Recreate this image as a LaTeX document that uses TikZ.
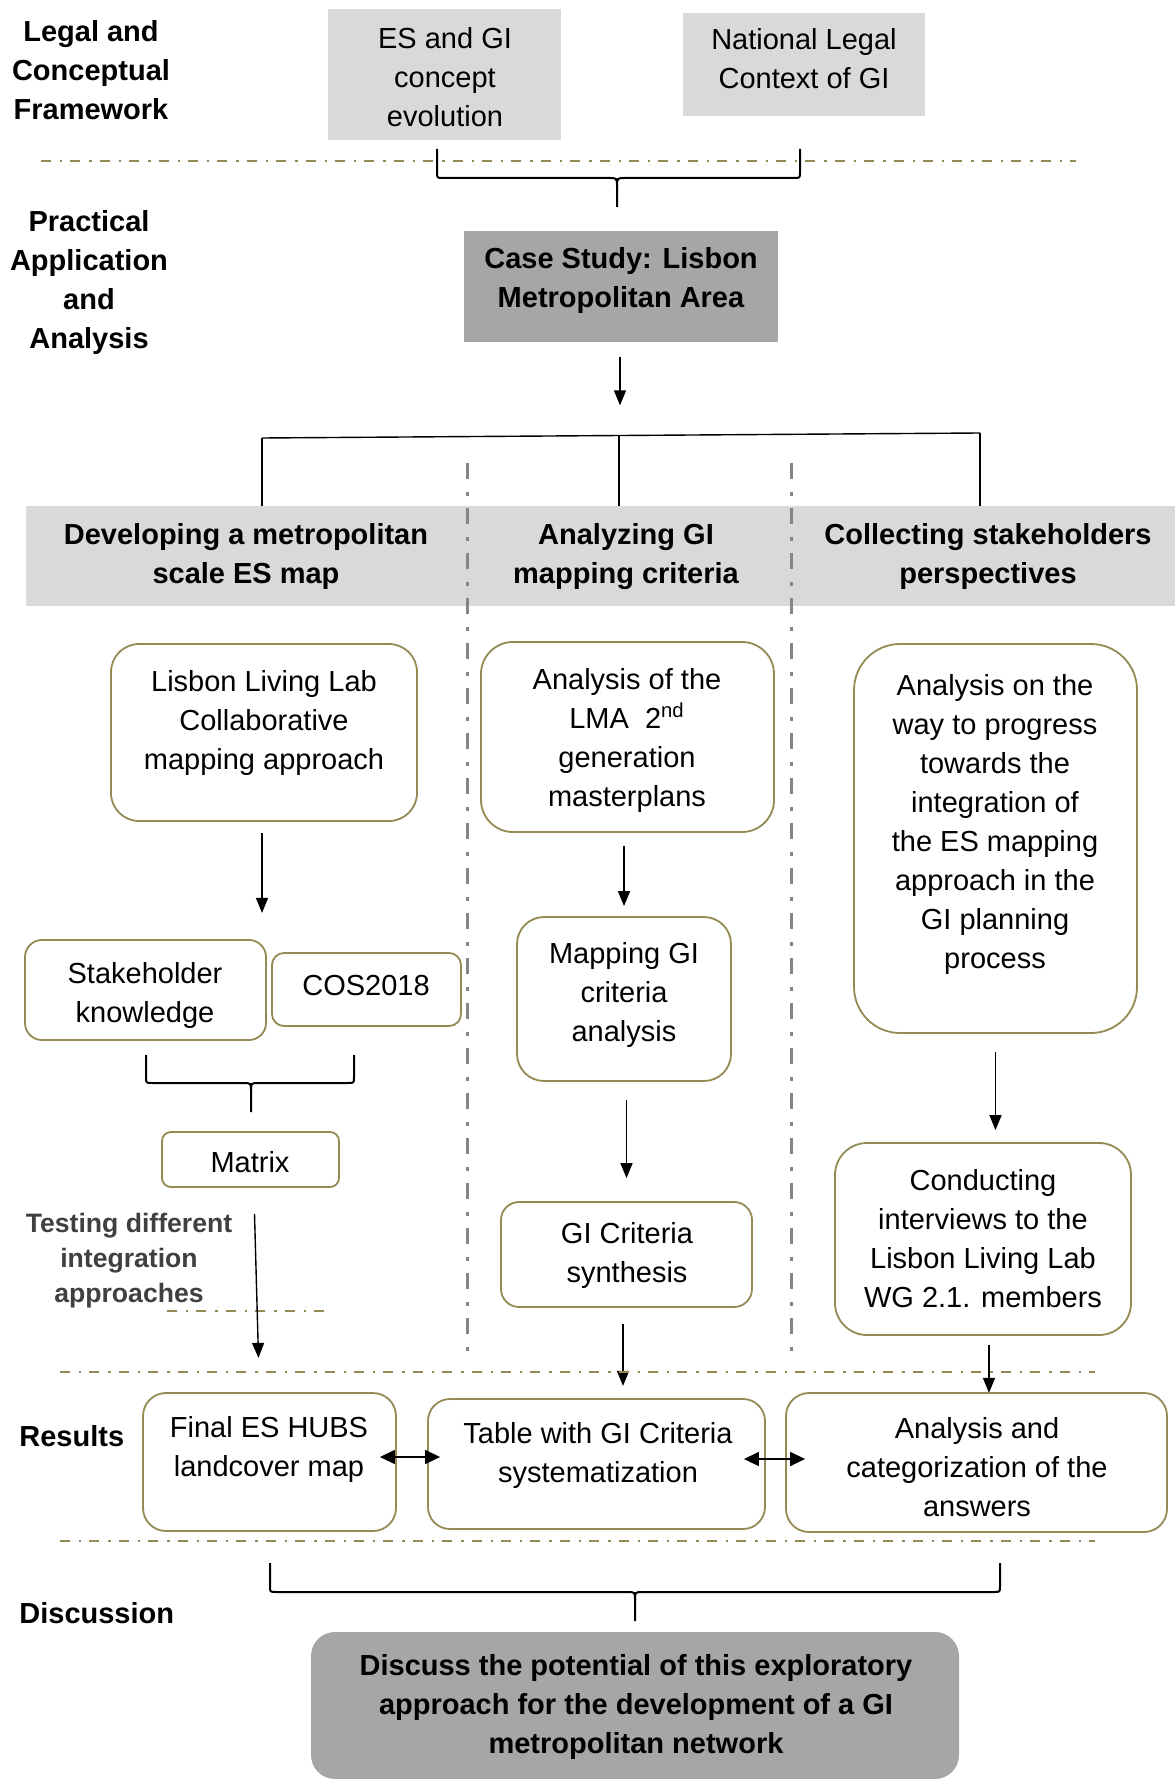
\documentclass[tikz,border=0pt]{standalone}
\usepackage{fontspec}
\setmainfont{Liberation Sans}
\usetikzlibrary{arrows.meta,fit,calc}
\definecolor{frameolive}{HTML}{948A54}
\definecolor{bandgray}{HTML}{D9D9D9}
\definecolor{darkfill}{HTML}{A6A6A6}
\definecolor{sepgray}{HTML}{858585}
\definecolor{notegray}{HTML}{404040}
\tikzset{
  body/.style={font=\fontsize{14.5}{19.5}\selectfont, align=center, inner sep=0pt},
  bodybf/.style={font=\fontsize{14.5}{19.5}\selectfont\bfseries, align=center, inner sep=0pt},
  rbox/.style={draw=frameolive, line width=0.9pt, fill=white, inner sep=0pt},
  gbox/.style={fill=bandgray, inner sep=0pt},
  dbox/.style={fill=darkfill, inner sep=0pt},
  conn/.style={line width=0.7pt},
  arr/.style={line width=0.7pt, -{Triangle[length=7.5pt,width=6pt]}},
  darr/.style={line width=0.7pt, {Triangle[length=7.5pt,width=7pt]}-{Triangle[length=7.5pt,width=7pt]}},
  brace/.style={line width=1pt},
  phase/.style={draw=frameolive, line width=1.3pt, dash pattern=on 5pt off 4.5pt on 1.2pt off 4pt},
  column/.style={draw=sepgray, line width=1.5pt, dash pattern=on 8pt off 6.5pt on 2pt off 6pt},
}
\begin{document}
\begin{tikzpicture}[x=0.5pt,y=-0.5pt]
\useasboundingbox (0,0) rectangle (1175,1780);

% phase labels
\node[bodybf] (lab-legal) at (91,70) {Legal and\\Conceptual\\Framework};
\node[bodybf] (lab-prac) at (89,283) {Practical\\Application\\and\\Analysis};
\node[bodybf, anchor=west] (lab-res) at (19,1436) {Results};
\node[bodybf, anchor=west] (lab-disc) at (19,1613) {Discussion};

% legal and conceptual framework
\node[gbox, fit={(328,9) (561,140)}] (es) {};
\node[body] (es-t) at (445,77) {ES and GI\\concept\\evolution};
\node[gbox, fit={(683,13) (925,116)}] (nat) {};
\node[body] (nat-t) at (804,59) {National Legal\\Context of GI};

\draw[phase] (41,161) -- (1076,161);

% brace joining both framework boxes
\draw[brace] (437,149) -- (437,172) .. controls (437,178) .. (443,178) -- (609,178)
  .. controls (617,178) .. (617,187) -- (617,207);
\draw[brace] (800,149) -- (800,172) .. controls (800,178) .. (794,178) -- (625,178)
  .. controls (617,178) .. (617,187);

% case study
\node[dbox, fit={(464,231) (778,342)}] (case) {};
\node[bodybf] (case-t) at (621,281) {Case Study: Lisbon\\Metropolitan Area};
\draw[arr] ($(case.south)+(-1,15)$) -- ($(case.south)+(-1,63)$);

% header band and split into three tracks
\node[gbox, fit={(26,506) (1175,606)}] (band) {};
\coordinate (tl) at (262,438);
\coordinate (tm) at (619,435.5);
\coordinate (tr) at (980,433);
\draw[conn] (tl) -- (tr);
\draw[conn] (tl) -- (tl |- band.north);
\draw[conn] (tm) -- (tm |- band.north);
\draw[conn] (tr) -- (tr |- band.north);

% column separators
\draw[column] (467,463) -- (467,1357);
\draw[column] (791,463) -- (791,1357);

\node[bodybf] (h1) at (246,557) {Developing a metropolitan\\scale ES map};
\node[bodybf] (h2) at (626,557) {Analyzing GI\\mapping criteria};
\node[bodybf] (h3) at (988,557) {Collecting stakeholders\\perspectives};

% left track
\node[rbox, rounded corners=14pt, fit={(111,644) (417,821)}] (lll) {};
\node[body] (lll-t) at (264,723) {Lisbon Living Lab\\Collaborative\\mapping approach};
\node[rbox, rounded corners=8.5pt, fit={(25,940) (266,1040)}] (stk) {};
\node[body] (stk-t) at (145,995) {Stakeholder\\knowledge};
\node[rbox, rounded corners=6pt, fit={(272,953) (461,1026)}] (cos) {};
\node[body] (cos-t) at (366,986) {COS2018};
\draw[arr] ($(lll.south)+(-2,11)$) -- ($(lll.south)+(-2,91)$);

\draw[brace] (146,1055) -- (146,1077) .. controls (146,1083) .. (152,1083) -- (243,1083)
  .. controls (251,1083) .. (251,1091) -- (251,1112);
\draw[brace] (354,1055) -- (354,1077) .. controls (354,1083) .. (348,1083) -- (259,1083)
  .. controls (251,1083) .. (251,1091);

\node[rbox, rounded corners=4.5pt, fit={(162,1132) (339,1187)}] (mtx) {};
\node[body] (mtx-t) at (250,1162) {Matrix};
\node[font=\fontsize{13.3}{17.5}\selectfont\bfseries, align=center, inner sep=0pt, text=notegray]
  (test) at (129,1261) {Testing different\\integration\\approaches};
\draw[phase] (167,1311) -- (330,1311);
\draw[arr] ($(mtx.south)+(4,26)$) -- ($(mtx.south)+(8,170)$);

% middle track
\node[rbox, rounded corners=16pt, fit={(481,642) (774,832)}] (lma) {};
\node[body] (lma-t) at (627,740) {Analysis of the\\LMA\ \ 2\textsuperscript{nd}\\generation\\masterplans};
\node[rbox, rounded corners=13.5pt, fit={(517,917) (731,1081)}] (map) {};
\node[body] (map-t) at (624,995) {Mapping GI\\criteria\\analysis};
\node[rbox, rounded corners=9pt, fit={(501,1202) (752,1307)}] (syn) {};
\node[body] (syn-t) at (627,1255) {GI Criteria\\synthesis};
\draw[arr, shorten <=6.5pt, shorten >=5pt] (map.north |- lma.south) -- (map.north);
\draw[arr, shorten <=9pt, shorten >=11.5pt] (syn.north |- map.south) -- (syn.north);
\draw[arr] ($(syn.south)+(-3.5,16)$) -- ($(syn.south)+(-3.5,78)$);

% right track
\node[rbox, rounded corners=23pt, fit={(854,644) (1137,1033)}] (prog) {};
\node[body] (prog-t) at (995,824) {Analysis on the\\way to progress\\towards the\\integration of\\the ES mapping\\approach in the\\GI planning\\process};
\node[rbox, rounded corners=16pt, fit={(835,1143) (1131,1335)}] (int) {};
\node[body] (int-t) at (983,1239) {Conducting\\interviews to the\\Lisbon Living Lab\\WG 2.1. members};
\draw[arr, shorten <=9pt, shorten >=6pt] (prog.south) -- (prog.south |- int.north);
\draw[arr] ($(int.south)+(6,9)$) -- ($(int.south)+(6,57)$);

% results
\draw[phase] (60,1372) -- (1095,1372);
\draw[phase] (60,1541) -- (1095,1541);
\node[rbox, rounded corners=11.5pt, fit={(143,1393) (396,1531)}] (fin) {};
\node[body] (fin-t) at (269,1449) {Final ES HUBS\\landcover map};
\node[rbox, rounded corners=11pt, fit={(428,1399) (765,1529)}] (tab) {};
\node[body] (tab-t) at (598,1455) {Table with GI Criteria\\systematization};
\node[rbox, rounded corners=11.5pt, fit={(786,1393) (1167,1532)}] (ans) {};
\node[body] (ans-t) at (977,1467) {Analysis and\\categorization of the\\answers};
\draw[darr] ($(fin.east)+(-17,-5)$) -- ($(tab.west)+(13,-7)$);
\draw[darr] ($(tab.east)+(-22,-5)$) -- ($(ans.west)+(20,-3.5)$);

% discussion
\draw[brace] (270,1563) -- (270,1586) .. controls (270,1592) .. (276,1592) -- (627,1592)
  .. controls (635,1592) .. (635,1600) -- (635,1621);
\draw[brace] (1000,1563) -- (1000,1586) .. controls (1000,1592) .. (994,1592) -- (643,1592)
  .. controls (635,1592) .. (635,1600);
\node[dbox, rounded corners=12pt, fit={(311,1632) (959,1779)}] (disc) {};
\node[bodybf] (disc-t) at (636,1707) {Discuss the potential of this exploratory\\approach for the development of a GI\\metropolitan network};
\end{tikzpicture}
\end{document}
